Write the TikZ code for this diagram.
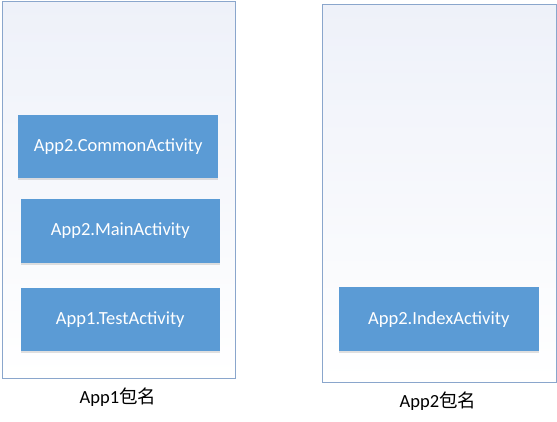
\documentclass[tikz,border=0pt]{standalone}
\usepackage{fontspec}
\setmainfont{Carlito}
\newfontfamily\cjk{Noto Sans CJK SC}
\usetikzlibrary{shadows}
\definecolor{boxblue}{HTML}{5B9BD5}
\definecolor{frameblue}{HTML}{8AA6CC}
\definecolor{shadetop}{HTML}{EEF1F9}
\definecolor{shademid}{HTML}{F9FAFD}
\tikzset{
  container/.style={draw=frameblue, line width=1pt, top color=shadetop, middle color=shademid, bottom color=white, inner sep=0pt},
  actbox/.style={fill=boxblue, draw=none, inner sep=0pt, text=white, font=\fontsize{18.5}{22}\selectfont,
     drop shadow={shadow xshift=0pt, shadow yshift=-1.8pt, opacity=0.2, fill=black!60}},
  caption/.style={text=black, font=\fontsize{18.5}{22}\selectfont, inner sep=0pt}
}
\begin{document}
\begin{tikzpicture}[x=1pt,y=-1pt]
\useasboundingbox (0,0) rectangle (557,422);
\node[container, minimum width=233pt, minimum height=376.5pt] (left) at (118.5,189.75) {};
\node[container, minimum width=234pt, minimum height=377pt] (right) at (439,193.5) {};
\node[actbox, minimum width=200pt, minimum height=63pt] (common) at (118.2,146.5) {App2.CommonActivity};
\node[actbox, minimum width=199.5pt, minimum height=64pt] (main) at (120.3,231) {App2.MainActivity};
\node[actbox, minimum width=199.5pt, minimum height=63pt] (test) at (120.3,319.5) {App1.TestActivity};
\node[actbox, minimum width=199.5pt, minimum height=63.5pt] (index) at (438.8,319.2) {App2.IndexActivity};
\node[caption] (cap1) at (118,397) {App1{\cjk 包名}};
\node[caption] (cap2) at (438,401) {App2{\cjk 包名}};
\end{tikzpicture}
\end{document}
